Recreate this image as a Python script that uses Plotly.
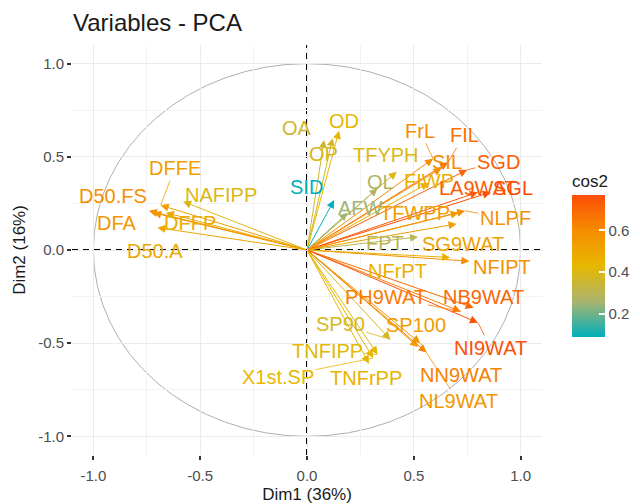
import plotly.graph_objects as go
from plotly.colors import sample_colorscale

FONT = "Liberation Sans, Arial, sans-serif"

# Variable coordinates on the first two dimensions and their quality of representation
variables = ["OA", "OD", "OP", "SID", "AFW", "TFYPH", "FrL", "FIL", "SIL", "SGD",
             "OL", "FIWP", "LA9WAT", "SGL", "TFWPP", "NLPF", "FPT", "SG9WAT",
             "NFIPT", "NFrPT", "PH9WAT", "NB9WAT", "NI9WAT", "SP90", "SP100",
             "NN9WAT", "NL9WAT", "TNFIPP", "TNFrPP", "X1st.SP", "DFFE", "D50.FS",
             "NAFIPP", "DFA", "DFFP", "D50.A"]
dim1 = [0.08, 0.15, 0.12, 0.127, 0.19, 0.42, 0.59, 0.66, 0.63, 0.75,
        0.33, 0.57, 0.80, 0.86, 0.71, 0.74, 0.52, 0.70,
        0.76, 0.67, 0.72, 0.78, 0.80, 0.39, 0.52,
        0.56, 0.53, 0.33, 0.29, 0.31, -0.685, -0.74,
        -0.58, -0.72, -0.66, -0.70]
dim2 = [0.59, 0.64, 0.60, 0.268, 0.20, 0.42, 0.49, 0.47, 0.44, 0.43,
        0.33, 0.36, 0.31, 0.31, 0.20, 0.21, 0.07, 0.14,
        -0.06, -0.04, -0.33, -0.31, -0.39, -0.48, -0.52,
        -0.55, -0.50, -0.56, -0.61, -0.58, 0.24, 0.21,
        0.26, 0.20, 0.20, 0.12]
cos2 = [0.36, 0.43, 0.38, 0.09, 0.25, 0.40, 0.60, 0.68, 0.60, 0.72,
        0.28, 0.46, 0.74, 0.77, 0.54, 0.58, 0.30, 0.52,
        0.58, 0.46, 0.64, 0.70, 0.76, 0.38, 0.54,
        0.63, 0.56, 0.42, 0.45, 0.43, 0.53, 0.59,
        0.40, 0.56, 0.48, 0.50]

# Repelled label placement: pixel offset of each label from its arrow tip,
# and whether a leader segment joins label and tip
label_dx = [-27, 5, -9, -28, 13, -11, -13, 16, 5, 31,
            3, 0, 0, 22, -44, 40, -33, 6,
            33, -53, -75, 10, 13, -50, -2,
            34, 38, -50, -3, -95, 14, -36,
            38, -36, 24, -2]
label_dy = [-12, -10, 16, -13, -5, -17, -28, -27, -6, -8,
            -7, -2, -4, -4, 0, 7, 6, 20,
            6, 14, -15, -11, 25, -15, -22,
            22, 58, -3, 14, 19, -37, -15,
            -7, 10, 10, 23]
leader = [False, False, False, False, False, False, True, True, False, True,
          False, False, False, False, False, True, False, False,
          False, False, True, False, True, True, False,
          False, True, True, False, True, True, False,
          False, False, False, False]

axis_ticks = [-1.0, -0.5, 0.0, 0.5, 1.0]
axis_ticktext = ["-1.0", "-0.5", "0.0", "0.5", "1.0"]
minor_ticks = [-0.75, -0.25, 0.25, 0.75]
cbar_ticks = [0.2, 0.4, 0.6]
cbar_ticktext = ["0.2", "0.4", "0.6"]

# teal -> yellow -> orange-red, with perceptual (Lab) midpoints between the anchors
scale = [[0.0, "rgb(0,175,187)"], [0.25, "rgb(169,180,111)"],
         [0.5, "rgb(231,184,0)"], [0.75, "rgb(246,140,0)"],
         [1.0, "rgb(252,78,7)"]]
cmin, cmax = min(cos2), max(cos2)
colors = sample_colorscale(scale, [(c - cmin) / (cmax - cmin) for c in cos2])

fig = go.Figure()

# invisible markers carrying the cos2 colour scale (drives the colour bar)
fig.add_trace(go.Scatter(
    x=dim1, y=dim2, mode="markers", hoverinfo="skip", showlegend=False,
    marker=dict(size=1, opacity=0, color=cos2, colorscale=scale, cmin=cmin, cmax=cmax,
                showscale=True,
                colorbar=dict(
                    x=1.064, xanchor="left", y=0.693, yanchor="top",
                    lenmode="pixels", len=166, thickness=33, outlinewidth=0,
                    xpad=0, ypad=0,
                    tickvals=cbar_ticks, ticktext=cbar_ticktext,
                    ticks="inside", ticklen=6, tickcolor="white", tickwidth=1.5,
                    tickfont=dict(size=15, color="#4D4D4D", family=FONT),
                    title=dict(text="cos2", side="top",
                               font=dict(size=17, color="#1A1A1A", family=FONT)),
                )),
))

annotations = []
# arrows from the origin to each variable
for x, y, col in zip(dim1, dim2, colors):
    annotations.append(dict(
        x=x, y=y, ax=0, ay=0, xref="x", yref="y", axref="x", ayref="y",
        text="", showarrow=True, arrowhead=2, arrowsize=1.6, arrowwidth=1,
        arrowcolor=col, standoff=0, startstandoff=0,
    ))
# variable labels
for name, x, y, col, dx, dy, seg in zip(variables, dim1, dim2, colors,
                                        label_dx, label_dy, leader):
    annotations.append(dict(
        x=x, y=y, xref="x", yref="y", ax=dx, ay=dy, text=name,
        showarrow=True, arrowhead=0, arrowwidth=0.8,
        arrowcolor=col if seg else "rgba(0,0,0,0)",
        font=dict(size=20, color=col, family=FONT),
    ))

shapes = [
    dict(type="circle", xref="x", yref="y", x0=-1, y0=-1, x1=1, y1=1,
         line=dict(color="#AFAFAF", width=1), layer="below"),
    dict(type="line", xref="paper", yref="y", x0=0, x1=1, y0=0, y1=0,
         line=dict(color="black", width=2, dash="6px,5px"), layer="below"),
    dict(type="line", xref="x", yref="paper", x0=0, x1=0, y0=0, y1=1,
         line=dict(color="black", width=2, dash="6px,5px"), layer="below"),
]

axis_common = dict(
    range=[-1.1, 1.1], tickvals=axis_ticks, ticktext=axis_ticktext,
    showgrid=True, gridcolor="#EBEBEB", gridwidth=1.2,
    minor=dict(tickvals=minor_ticks, showgrid=True, gridcolor="#F3F3F3", gridwidth=1),
    zeroline=False, showline=False, ticks="outside", ticklen=4, tickwidth=1.5,
    tickcolor="#333333", tickfont=dict(size=15, color="#4D4D4D", family=FONT),
    fixedrange=True,
)

fig.update_layout(
    width=640, height=504,
    margin=dict(l=72, r=98, t=45, b=49, autoexpand=False),
    paper_bgcolor="white", plot_bgcolor="white",
    title=dict(text="Variables - PCA", xref="container", x=73 / 640, xanchor="left",
               yref="container", y=1 - 23 / 504, yanchor="middle",
               font=dict(size=24, color="#1A1A1A", family=FONT)),
    xaxis=dict(axis_common, ticklabelstandoff=3,
               title=dict(text="Dim1 (36%)", standoff=10,
                          font=dict(size=17, color="#1A1A1A", family=FONT))),
    yaxis=dict(axis_common, title=dict(text="Dim2 (16%)", standoff=8,
                                       font=dict(size=17, color="#1A1A1A", family=FONT))),
    annotations=annotations,
    shapes=shapes,
)

fig.write_html("out.html", config={"displayModeBar": False})
